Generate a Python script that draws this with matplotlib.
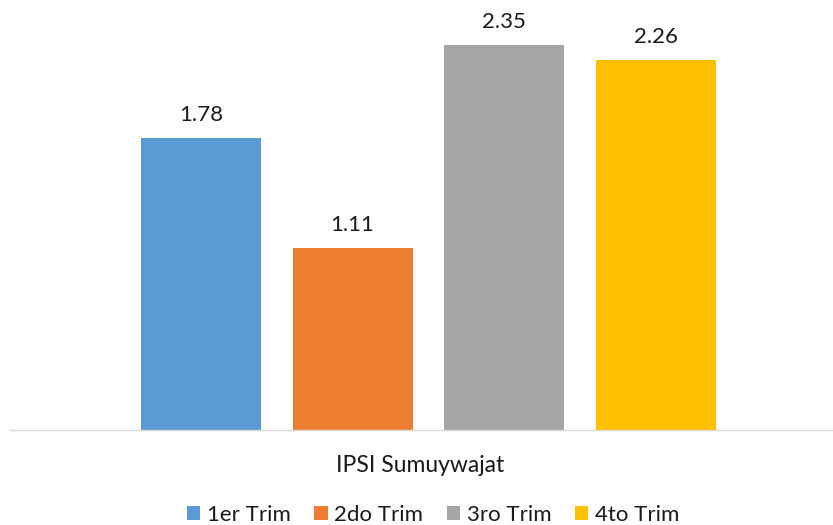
import matplotlib
matplotlib.use("Agg")
import matplotlib.pyplot as plt
from matplotlib.patches import Patch

categories = ["IPSI Sumuywajat"]
series = ["1er Trim", "2do Trim", "3ro Trim", "4to Trim"]
values = [1.78, 1.11, 2.35, 2.26]
colors = ["#5B9BD5", "#ED7D31", "#A5A5A5", "#FFC000"]

plt.rcParams['font.family'] = ['Lato', 'DejaVu Sans']

fig = plt.figure(figsize=(8.33, 5.25), dpi=100)
ax = fig.add_axes([10/833, 95/525, 823/833, 430/525])

xs = [0, 1, 2, 3]
bars = ax.bar(xs, values, width=0.791, color=colors)
for x, v in zip(xs, values):
    ax.text(x, v + 0.08, f"{v:.2f}", ha="center", va="bottom", fontsize=16, color="#1a1a1a")

ax.set_xlim(-1.259, 4.167)
ax.set_ylim(0, 2.625)
for s in ["top", "right", "left"]:
    ax.spines[s].set_visible(False)
ax.spines["bottom"].set_color("#D9D9D9")
ax.spines["bottom"].set_linewidth(1)
ax.set_yticks([])
ax.set_xticks([])

fig.text(420/833, 1 - 466/525, categories[0], ha="center", va="center", fontsize=16.5, color="#1a1a1a")

handles = [Patch(facecolor=c) for c in colors]
fig.legend(handles, series, loc="center", bbox_to_anchor=(433/833, 1 - 515/525), ncol=4,
           frameon=False, fontsize=16, handlelength=0.6, handleheight=0.6,
           handletextpad=0.3, columnspacing=1.05, labelcolor="#1a1a1a")

fig.savefig("out.png", dpi=100)
